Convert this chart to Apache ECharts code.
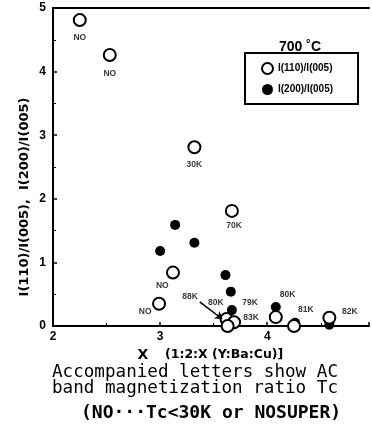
<!DOCTYPE html>
<html><head><meta charset="utf-8">
<script src="https://cdn.jsdelivr.net/npm/echarts@6/dist/echarts.min.js"></script>
<style>html,body{margin:0;padding:0;background:#fff}#c{width:372px;height:444px}</style>
</head><body><div id="c"></div>
<script>
// I(110)/I(005) - open circles
const openX = [2.25, 2.53, 3.32, 3.67, 3.12, 2.99, 3.62, 3.69, 3.63, 4.08, 4.25, 4.58];
const openY = [4.81, 4.26, 2.81, 1.81, 0.84, 0.35, 0.11, 0.06, 0.0, 0.14, 0.0, 0.13];
// I(200)/I(005) - filled circles
const fillX = [3.00, 3.14, 3.32, 3.61, 3.66, 3.67, 3.64, 4.08, 4.26, 4.58];
const fillY = [1.18, 1.59, 1.31, 0.80, 0.54, 0.25, 0.06, 0.30, 0.05, 0.02];
// Tc annotations
const tcX = [2.25, 2.53, 3.32, 3.69, 3.02, 2.86, 3.28, 3.52, 3.84, 3.85, 4.19, 4.36, 4.77];
const tcY = [4.54, 3.97, 2.54, 1.58, 0.63, 0.22, 0.46, 0.36, 0.37, 0.13, 0.50, 0.25, 0.22];
const tcText = ['NO','NO','30K','70K','NO','NO','88K','80K','79K','83K','80K','81K','82K'];
const xTicks = [2, 3, 4];
const yTicks = [0, 1, 2, 3, 4, 5];
const seriesNames = ['I(110)/I(005)', 'I(200)/I(005)'];
const yTitle = 'I(110)/I(005),  I(200)/I(005)';
const xTitleA = 'X';
const xTitleB = '(1:2:X (Y:Ba:Cu)]';

const zip = (a, b) => a.map((v, i) => [v, b[i]]);
const bold = {fontFamily: 'Liberation Sans, Arial, sans-serif', fontWeight: 'bold', color: '#000'};

const chart = echarts.init(document.getElementById('c'));
chart.setOption({
  animation: false,
  backgroundColor: '#fff',
  grid: {left: 53, top: 8, right: 0, bottom: 118},
  title: {text: '700 ˚C', left: 274, top: 35,
    textStyle: Object.assign({}, bold, {fontSize: 14})},
  legend: {
    orient: 'vertical', left: 245, top: 53,
    padding: [9, 25, 9, 16], itemGap: 9, itemWidth: 11, itemHeight: 11,
    borderColor: '#000', borderWidth: 2,
    textStyle: Object.assign({}, bold, {fontSize: 10, fontWeight: 900}),
    data: [
      {name: seriesNames[0], icon: 'circle', itemStyle: {color: '#fff', borderColor: '#000', borderWidth: 2, opacity: 1}},
      {name: seriesNames[1], icon: 'circle', itemStyle: {color: '#000', opacity: 1}}
    ]
  },
  xAxis: [{
    type: 'value', min: 2, max: 4.95, interval: 1,
    axisLine: {lineStyle: {color: '#000', width: 2}},
    axisTick: {inside: true, length: 4, lineStyle: {color: '#000', width: 1.5}},
    minorTick: {show: true, splitNumber: 2, length: 3, lineStyle: {color: '#000'}},
    splitLine: {show: false},
    axisLabel: Object.assign({}, bold, {fontSize: 12, fontWeight: 900, margin: 5,
      formatter: v => xTicks.includes(Math.round(v*100)/100) ? String(v) : ''})
  }, {
    type: 'value', position: 'top', min: 2, max: 4.95,
    axisLine: {lineStyle: {color: '#000', width: 2}},
    axisTick: {show: false}, axisLabel: {show: false}, splitLine: {show: false}
  }],
  yAxis: {
    type: 'value', min: 0, max: 5, interval: 1,
    axisLine: {lineStyle: {color: '#000', width: 2}},
    axisTick: {inside: true, length: 4, lineStyle: {color: '#000', width: 1.5}},
    minorTick: {show: true, splitNumber: 2, length: 3, lineStyle: {color: '#000'}},
    splitLine: {show: false},
    axisLabel: Object.assign({}, bold, {fontSize: 12, fontWeight: 900, margin: 7,
      formatter: v => yTicks.includes(v) ? String(v) : ''})
  },
  series: [{
    name: seriesNames[1], type: 'scatter', symbol: 'circle', symbolSize: 10,
    itemStyle: {color: '#000', opacity: 1}, z: 2,
    data: zip(fillX, fillY)
  }, {
    name: seriesNames[0], type: 'scatter', symbol: 'circle', symbolSize: 12,
    itemStyle: {color: '#fff', borderColor: '#000', borderWidth: 2, opacity: 1}, z: 3,
    data: zip(openX, openY)
  }, {
    name: 'tc', type: 'scatter', symbolSize: 0, z: 4,
    label: {show: true, position: 'inside', formatter: p => tcText[p.dataIndex],
      fontFamily: 'Liberation Sans, Arial, sans-serif', fontWeight: 900, fontSize: 8.5, color: '#000'},
    data: zip(tcX, tcY),
    markLine: {
      silent: true, symbol: ['none', 'arrow'], symbolSize: 7,
      lineStyle: {color: '#000', width: 1.5, type: 'solid'},
      label: {show: false},
      data: [[{coord: [3.37, 0.38]}, {coord: [3.58, 0.11]}]]
    }
  }],
  graphic: [
    {type: 'text', x: 25, y: 197, rotation: Math.PI / 2,
      style: {text: yTitle, font: 'bold 13px "DejaVu Sans"', fill: '#000', align: 'center', verticalAlign: 'middle'}},
    {type: 'text', x: 143, y: 355,
      style: {text: xTitleA, font: 'bold 14px "DejaVu Sans"', fill: '#000', align: 'center', verticalAlign: 'middle'}},
    {type: 'text', x: 165, y: 355,
      style: {text: xTitleB, font: 'bold 12.5px "DejaVu Sans"', fill: '#000', align: 'left', verticalAlign: 'middle'}},
    {type: 'text', left: 52, top: 363, style: {text: 'Accompanied letters show AC', font: '500 17.6px "DejaVu Sans Mono"', fill: '#000'}},
    {type: 'text', left: 52, top: 379, style: {text: 'band magnetization ratio Tc', font: '500 17.6px "DejaVu Sans Mono"', fill: '#000'}},
    {type: 'text', left: 81, top: 404, style: {text: '(NO···Tc<30K or NOSUPER)', font: 'bold 18px "DejaVu Sans Mono"', fill: '#000'}}
  ]
});
</script></body></html>
